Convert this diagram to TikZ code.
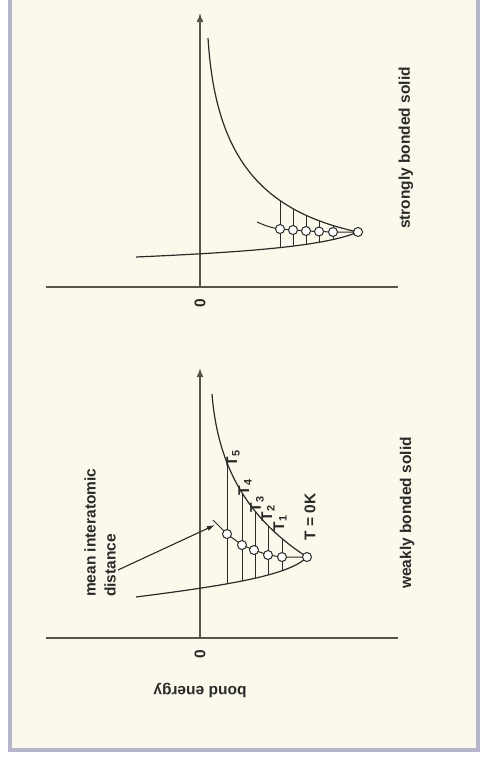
\documentclass[tikz,border=0pt]{standalone}
\usepackage{fontspec}
\setmainfont{Liberation Sans}
\usetikzlibrary{arrows.meta,positioning}
\definecolor{ink}{HTML}{2A2A28}
\definecolor{axisgrey}{HTML}{55554D}
\definecolor{paper}{HTML}{FBF9EC}
\definecolor{rim}{HTML}{B6B5CA}
\tikzset{
  panel/.style={draw=rim,fill=paper,line width=4pt},
  axis/.style={draw=axisgrey,line width=1.6pt},
  axisarrow/.style={-{Latex[length=9pt,width=7pt]}},
  well/.style={draw=ink,line width=1.2pt},
  level/.style={draw=ink,line width=1pt},
  atom/.style={circle,draw=ink,fill=white,line width=1pt,inner sep=0pt,minimum size=9pt},
  pointer/.style={-{Latex[length=8pt,width=5pt]},draw=ink,line width=1.1pt},
  lbl/.style={font=\bfseries\fontsize{15.5}{20}\selectfont,text=ink,inner sep=0pt},
  tlbl/.style={lbl,rotate=90}}

\begin{document}
\begin{tikzpicture}[x=1pt,y=-1pt]
  \useasboundingbox (0,0) rectangle (482,761);
  \fill[white] (0,0) rectangle (482,761);
  \draw[panel] (9.5,-6) rectangle (478,750);

  % strongly bonded solid
  \coordinate (so) at (200,287);
  \coordinate (sy) at (200,13);
  \coordinate (sxl) at (46,287);
  \coordinate (sxr) at (398,287);
  \draw[axis] (sxl) -- (sxr);
  \draw[axis,axisarrow] (so) -- (sy);
  \draw[well,save path=\strongwell] (208,38) .. controls (215,150) and (255,210) .. (358,232)
    .. controls (325,246) and (250,252) .. (136,257);
  \begin{scope}
    \clip[use path=\strongwell];
    \foreach \x in {280,293,306,319,333}
      \draw[level] (\x,180) -- (\x,270);
  \end{scope}
  \draw[level] (257,222) .. controls (266,226) and (272,228) .. (280,229)
    -- (293,230) -- (306,231) -- (319,231.5) -- (333,232) -- (358,232);
  \foreach \x/\y [count=\i] in {280/229,293/230,306/231,319/231.5,333/232,358/232}
    \node[atom] (s\i) at (\x,\y) {};
  \node[tlbl] (szero) at (200,303) {0};
  \node[tlbl] (strong) at (406,148) {strongly bonded solid};

  % weakly bonded solid
  \coordinate (wo) at (200,638);
  \coordinate (wy) at (200,368);
  \coordinate (wxl) at (46,638);
  \coordinate (wxr) at (398,638);
  \draw[axis] (wxl) -- (wxr);
  \draw[axis,axisarrow] (wo) -- (wy);
  \draw[well,save path=\weakwell] (212,394) .. controls (218,470) and (250,520) .. (307,557)
    .. controls (290,575) and (230,585) .. (136,597);
  \begin{scope}
    \clip[use path=\weakwell];
    \foreach \x in {227,242,255,268,282}
      \draw[level] (\x,450) -- (\x,600);
  \end{scope}
  \draw[level] (213,520) -- (227,534) -- (242,545) -- (254,550) -- (268,555) -- (282,557) -- (307,557);
  \foreach \x/\y [count=\i] in {227/534,242/545,254/550,268/555,282/557,307/557}
    \node[atom] (w\i) at (\x,\y) {};
  \node[tlbl] (t5) at (233,458) {T\textsubscript{5}};
  \node[tlbl] (t4) at (245,487) {T\textsubscript{4}};
  \node[tlbl] (t3) at (257,504) {T\textsubscript{3}};
  \node[tlbl] (t2) at (268,513) {T\textsubscript{2}};
  \node[tlbl] (t1) at (280,523) {T\textsubscript{1}};
  \node[tlbl] (t0) at (310,517) {T = 0K};
  \node[tlbl,align=left,anchor=west] (mean) at (100,597) {mean interatomic\\distance};
  \coordinate (meanfoot) at (118,570);
  \coordinate (meanend) at (215,525);
  \draw[pointer] (meanfoot) -- (meanend);
  \node[tlbl] (wzero) at (200,654) {0};
  \node[lbl,rotate=180] (energy) at (200,690) {bond energy};
  \node[tlbl] (weak) at (407,513) {weakly bonded solid};
\end{tikzpicture}
\end{document}
